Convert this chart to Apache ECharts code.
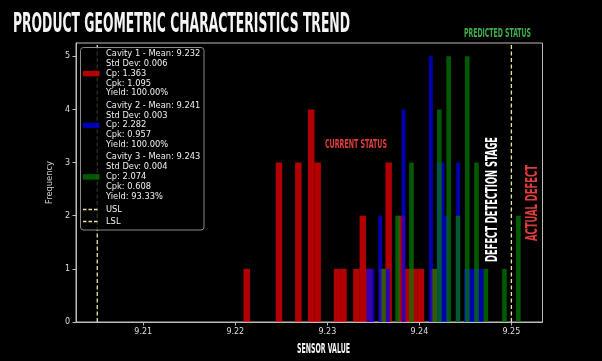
<!DOCTYPE html>
<html><head><meta charset="utf-8">
<script src="https://cdn.jsdelivr.net/npm/echarts@6/dist/echarts.min.js"></script>
<style>html,body{margin:0;padding:0;background:#000}#c{width:602px;height:361px}</style>
</head><body><div id="c"></div>
<script>
// ---------------- data ----------------
const cavityNames = ['Cavity 1', 'Cavity 2', 'Cavity 3'];
const binStarts = [9.22089, 9.23426, 9.23586];
const binWidths = [0.000701, 0.0004235, 0.000505];
const cav1Counts = [1,0,0,0,0,3,0,0,3,0,4,3,0,0,1,1,0,1,2,1,0,1,3,0,2,1,1,1,0,1];
const cav2Counts = [1,1,0,2,0,1,0,0,0,4,0,0,0,0,0,0,5,0,3,3,2,0,0,3,0,1,1,1,1,1];
const cav3Counts = [1,0,0,2,0,0,3,0,0,0,0,1,4,0,5,0,2,0,5,0,3,0,1,0,0,0,1,0,0,2];
const means = ['9.232', '9.241', '9.243'];
const stdDevs = ['0.006', '0.003', '0.004'];
const cps = ['1.363', '2.282', '2.074'];
const cpks = ['1.095', '0.957', '0.608'];
const yields = ['100.00%', '100.00%', '93.33%'];
const specNames = ['USL', 'LSL'];
const specValues = [9.25, 9.205];
const xTicks = [9.21, 9.22, 9.23, 9.24, 9.25];
const yTicks = [0, 1, 2, 3, 4, 5];
const xMin = 9.20269, xMax = 9.25338, yMax = 5.25;

// ---------------- styles ----------------
const colors = ['#ff0000', '#0000ff', '#008000'];
const specColor = '#ece4a0';
const allCounts = [cav1Counts, cav2Counts, cav3Counts];
const condFont = '"DejaVu Sans Condensed", "DejaVu Sans", sans-serif';
const mctx = document.createElement('canvas').getContext('2d');
function fit(text, size, target) {
  mctx.font = 'bold ' + size + 'px ' + condFont;
  return target / mctx.measureText(text).width;
}
function condText(text, size, cx, cy, target, fill, rot, align) {
  return {
    type: 'text', x: cx, y: cy, rotation: rot || 0, scaleX: fit(text, size, target), z: 50,
    style: { text: text, fill: fill, fontSize: size, fontWeight: 'bold', fontFamily: condFont,
      align: align || 'center', verticalAlign: 'middle' }
  };
}

function histSeries(idx) {
  const data = [];
  allCounts[idx].forEach((c, k) => {
    if (c > 0) data.push([binStarts[idx] + k * binWidths[idx], binStarts[idx] + (k + 1) * binWidths[idx], c]);
  });
  return {
    type: 'custom', name: cavityNames[idx], data: data, z: 2 + idx,
    encode: { x: [0, 1], y: 2 },
    renderItem: function (params, api) {
      const p0 = api.coord([api.value(0), api.value(2)]);
      const p1 = api.coord([api.value(1), 0]);
      return { type: 'rect', shape: { x: p0[0], y: p0[1], width: p1[0] - p0[0], height: p1[1] - p0[1] },
        style: { fill: colors[idx], opacity: 0.7 } };
    }
  };
}

const specSeries = {
  type: 'custom', name: 'spec', z: 6,
  data: specValues.map(v => [v]),
  encode: { x: 0 },
  renderItem: function (params, api) {
    const a = api.coord([api.value(0), 0]);
    const b = api.coord([api.value(0), yMax]);
    return { type: 'line', shape: { x1: a[0], y1: a[1], x2: b[0], y2: b[1] },
      style: { stroke: specColor, lineWidth: 1.3, lineDash: [4, 2.5] } };
  }
};

// legend (graphic)
const legendEls = [];
legendEls.push({ type: 'rect', shape: { x: 80.5, y: 47.5, width: 123.5, height: 182.5, r: 3 },
  style: { fill: 'rgba(0,0,0,0.8)', stroke: '#8a8a8a', lineWidth: 1 }, z: 100 });
const blockTop = [54, 105.7, 157.3];
const lineGap = 9.8;
const legFont = { fontSize: 8.3, fontFamily: 'DejaVu Sans', fill: '#eeeeee', align: 'left', verticalAlign: 'middle' };
for (let i = 0; i < 3; i++) {
  const lines = [cavityNames[i] + ' - Mean: ' + means[i], 'Std Dev: ' + stdDevs[i], 'Cp: ' + cps[i],
    'Cpk: ' + cpks[i], 'Yield: ' + yields[i]];
  lines.forEach((t, j) => {
    legendEls.push({ type: 'text', x: 106, y: blockTop[i] + lineGap * j, z: 101,
      style: Object.assign({ text: t }, legFont) });
  });
  legendEls.push({ type: 'rect', shape: { x: 83, y: blockTop[i] + lineGap * 2 - 2.75, width: 16.5, height: 5.5 },
    style: { fill: colors[i], opacity: 0.7 }, z: 101 });
}
[209.5, 221.5].forEach((y, i) => {
  legendEls.push({ type: 'line', shape: { x1: 83, y1: y, x2: 99.5, y2: y },
    style: { stroke: specColor, lineWidth: 1.3, lineDash: [3.5, 2] }, z: 101 });
  legendEls.push({ type: 'text', x: 106, y: y, z: 101, style: Object.assign({ text: specNames[i] }, legFont) });
});

const annotations = [
  condText('PRODUCT GEOMETRIC CHARACTERISTICS TREND', 26, 13, 25.5, 337, '#f4f4f4', 0, 'left'),
  condText('PREDICTED STATUS', 11.5, 497.5, 34.5, 67, '#3fae4a'),
  condText('CURRENT STATUS', 12.5, 356, 145, 62, '#e03c3c'),
  condText('DEFECT DETECTION STAGE', 16.5, 492.3, 199.5, 125, '#ffffff', Math.PI / 2),
  condText('ACTUAL DEFECT', 16, 532.5, 203, 76, '#e03c3c', Math.PI / 2),
  condText('SENSOR VALUE', 13.5, 323.5, 349, 53, '#f4f4f4')
];

const axisColor = '#bbbbbb';
const labelColor = '#dddddd';
const option = {
  backgroundColor: '#000',
  animation: false,
  grid: { left: 76, right: 59.5, top: 43, bottom: 39, show: true, borderColor: axisColor, borderWidth: 1 },
  xAxis: {
    type: 'value', min: xMin, max: xMax,
    axisLine: { show: true, lineStyle: { color: axisColor } },
    axisTick: { show: true, customValues: xTicks, length: 3.5, lineStyle: { color: axisColor } },
    axisLabel: { customValues: xTicks, color: labelColor, fontSize: 8, fontFamily: 'DejaVu Sans', margin: 6,
      formatter: v => v.toFixed(2) },
    splitLine: { show: false }
  },
  yAxis: {
    type: 'value', min: 0, max: yMax,
    name: 'Frequency', nameLocation: 'middle', nameGap: 13,
    nameTextStyle: { color: '#cccccc', fontSize: 8.3, fontFamily: 'DejaVu Sans' },
    axisLine: { show: true, lineStyle: { color: axisColor } },
    axisTick: { show: true, customValues: yTicks, length: 3.5, lineStyle: { color: axisColor } },
    axisLabel: { customValues: yTicks, color: labelColor, fontSize: 8, fontFamily: 'DejaVu Sans', margin: 6,
      formatter: v => String(Math.round(v)) },
    splitLine: { show: false }
  },
  series: [histSeries(0), histSeries(1), histSeries(2), specSeries],
  graphic: { elements: legendEls.concat(annotations) }
};
const chart = echarts.init(document.getElementById('c'));
chart.setOption(option);
</script></body></html>
